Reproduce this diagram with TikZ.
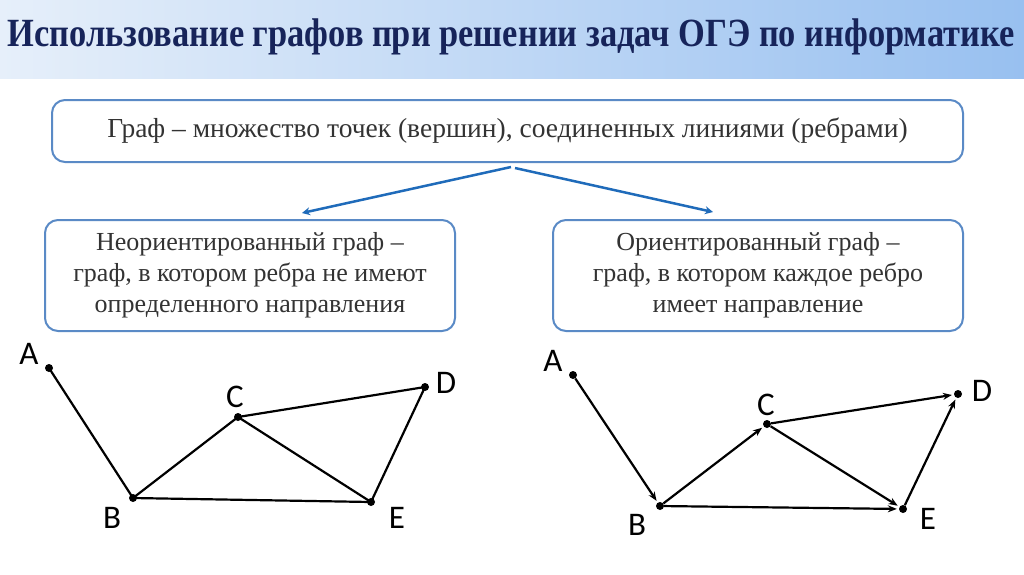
\documentclass[tikz,border=0pt]{standalone}
\usepackage{fontspec}
\setmainfont{Liberation Serif}
\newfontfamily\lblfont{Carlito}
\usetikzlibrary{arrows.meta}
\definecolor{titlecol}{HTML}{17245A}
\definecolor{barL}{HTML}{E6EFFA}
\definecolor{barR}{HTML}{98C0F0}
\definecolor{boxborder}{HTML}{5A8AC6}
\definecolor{arrcol}{HTML}{1F6BBA}
\definecolor{txtcol}{HTML}{333333}
\tikzset{
  infobox/.style={draw=boxborder, line width=2pt, rounded corners=13pt, fill=white},
  boxtext/.style={text=txtcol, font=\fontsize{27.5}{31}\selectfont, align=center},
  sidetext/.style={text=txtcol, font=\fontsize{26}{31}\selectfont, align=center},
  vtx/.style={circle, fill=black, inner sep=0pt, minimum size=8pt},
  vlbl/.style={font=\lblfont\fontsize{33}{35}\selectfont, inner sep=0pt},
  edge/.style={line width=2.2pt, black},
  darc/.style={line width=2.2pt, black, -{Stealth[length=9pt,width=7pt]}, shorten >=2pt},
  bluearr/.style={line width=2.5pt, arrcol, -{Stealth[length=8pt,width=8pt]}}
}
\begin{document}
\begin{tikzpicture}[x=1pt,y=-1pt]
\useasboundingbox (0,0) rectangle (1024,574);
\fill[white] (0,0) rectangle (1024,574);
\shade[left color=barL, right color=barR] (0,0) rectangle (1024,78);
\node[text=titlecol, font=\fontsize{40}{44}\selectfont\bfseries] (title) at (511,37)
  {\scalebox{0.86}[1]{Использование графов при решении задач ОГЭ по информатике}};

\node[infobox, minimum width=911pt, minimum height=62pt] (def) at (507.5,131) {};
\node[boxtext] (deft) at (507.5,131) {Граф – множество точек (вершин), соединенных линиями (ребрами)};

\node[infobox, minimum width=410pt, minimum height=111pt] (und) at (250,275.5) {};
\node[sidetext] (undt) at (250,275.5) {Неориентированный граф –\\граф, в котором ребра не имеют\\определенного направления};

\node[infobox, minimum width=410pt, minimum height=111pt] (dir) at (758,275.5) {};
\node[sidetext] (dirt) at (758,275.5) {Ориентированный граф –\\граф, в котором каждое ребро\\имеет направление};

\coordinate (s1) at (511,167);
\coordinate (s2) at (515,168);
\coordinate (t1) at (302,213);
\coordinate (t2) at (713,212);
\draw[bluearr] (s1) -- (t1);
\draw[bluearr] (s2) -- (t2);

% undirected graph
\node[vtx] (A) at (49,368) {};
\node[vtx] (B) at (133,498) {};
\node[vtx] (C) at (238,417) {};
\node[vtx] (D) at (425,387) {};
\node[vtx] (E) at (371,502) {};
\node[vlbl] (lA) at (29,354) {A};
\node[vlbl] (lB) at (112,518) {B};
\node[vlbl] (lC) at (235,397) {C};
\node[vlbl] (lD) at (446,383) {D};
\node[vlbl] (lE) at (397,518) {E};
\draw[edge] (A.center) -- (B.center);
\draw[edge] (B.center) -- (C.center);
\draw[edge] (C.center) -- (D.center);
\draw[edge] (C.center) -- (E.center);
\draw[edge] (B.center) -- (E.center);
\draw[edge] (E.center) -- (D.center);

% directed graph
\node[vtx] (A2) at (573,375) {};
\node[vtx] (B2) at (660,506) {};
\node[vtx] (C2) at (767,424) {};
\node[vtx] (D2) at (958,394) {};
\node[vtx] (E2) at (903,509) {};
\node[vlbl] (lA2) at (553,361) {A};
\node[vlbl] (lB2) at (637,525) {B};
\node[vlbl] (lC2) at (766,405) {C};
\node[vlbl] (lD2) at (982,391) {D};
\node[vlbl] (lE2) at (928,519) {E};
\draw[darc] (A2) -- (B2);
\draw[darc] (B2) -- (C2);
\draw[darc] (C2) -- (D2);
\draw[darc] (C2) -- (E2);
\draw[darc] (B2) -- (E2);
\draw[darc] (E2) -- (D2);
\end{tikzpicture}
\end{document}
